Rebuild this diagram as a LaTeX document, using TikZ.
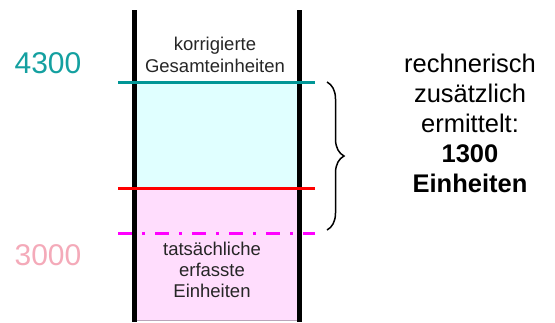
\documentclass[tikz,border=0pt]{standalone}
\usepackage{fontspec}
\setmainfont{Liberation Sans}
\usetikzlibrary{decorations.pathreplacing}
\definecolor{tealln}{RGB}{0,150,150}
\definecolor{tealtxt}{RGB}{20,160,160}
\definecolor{pinktxt}{RGB}{244,170,185}
\definecolor{cyanfill}{RGB}{224,255,255}
\definecolor{pinkfill}{RGB}{255,221,253}
\definecolor{magln}{RGB}{255,0,255}
\definecolor{redln}{RGB}{255,0,0}
\definecolor{edgeln}{RGB}{185,165,185}
\tikzset{
  bar/.style={line width=5pt, black},
  levelline/.style={line width=3pt},
  midtxt/.style={anchor=base, inner sep=0pt, text=black!85, font=\fontsize{18.5}{22}\selectfont},
  sidetxt/.style={anchor=base, inner sep=0pt, text=black, font=\fontsize{25.5}{30}\selectfont},
  numtxt/.style={anchor=base, inner sep=0pt, font=\fontsize{30}{36}\selectfont},
  bracestyle/.style={line width=1.5pt, decorate, decoration={brace, amplitude=17pt}}
}
\begin{document}
\begin{tikzpicture}[x=1pt,y=-1pt]
\useasboundingbox (0,0) rectangle (555,322);
% fills
\fill[cyanfill] (136,82) rectangle (297,188);
\fill[pinkfill] (136,188) rectangle (297,320);
\coordinate (bl) at (136,320.5);
\coordinate (br) at (297,320.5);
\draw[edgeln, line width=1pt] (bl) -- (br);
% bars
\coordinate (lbt) at (134,10);
\coordinate (lbb) at (134,322);
\coordinate (rbt) at (299,10);
\coordinate (rbb) at (299,322);
\draw[bar] (lbt) -- (lbb);
\draw[bar] (rbt) -- (rbb);
% level lines
\coordinate (tl) at (118,82);
\coordinate (tr) at (315,82);
\coordinate (rl) at (118,188);
\coordinate (rr) at (315,188);
\coordinate (ml) at (118,233);
\coordinate (mr) at (315,233);
\draw[levelline, tealln] (tl) -- (tr);
\draw[levelline, redln] (rl) -- (rr);
\draw[levelline, magln, dash pattern=on 14pt off 10pt on 3pt off 10pt] (ml) -- (mr);
% brace
\coordinate (bt) at (327,82);
\coordinate (bb) at (327,230);
\draw[bracestyle] (bt) -- (bb);
% numbers
\node[numtxt, text=tealtxt] (n4300) at (48,73.3) {4300};
\node[numtxt, text=pinktxt] (n3000) at (48,265) {3000};
% middle texts
\node[midtxt] (k1) at (215,50) {korrigierte};
\node[midtxt] (k2) at (215,72.7) {Gesamteinheiten};
\node[midtxt] (t1) at (212,255) {tatsächliche};
\node[midtxt] (t2) at (212,276) {erfasste};
\node[midtxt] (t3) at (212,297) {Einheiten};
% right texts
\node[sidetxt] (r1) at (470,72) {rechnerisch};
\node[sidetxt] (r2) at (470,102) {zusätzlich};
\node[sidetxt] (r3) at (470,132) {ermittelt:};
\node[sidetxt, font=\fontsize{25.5}{30}\selectfont\bfseries] (r4) at (470,162) {1300};
\node[sidetxt, font=\fontsize{25.5}{30}\selectfont\bfseries] (r5) at (470,192) {Einheiten};
\end{tikzpicture}
\end{document}
